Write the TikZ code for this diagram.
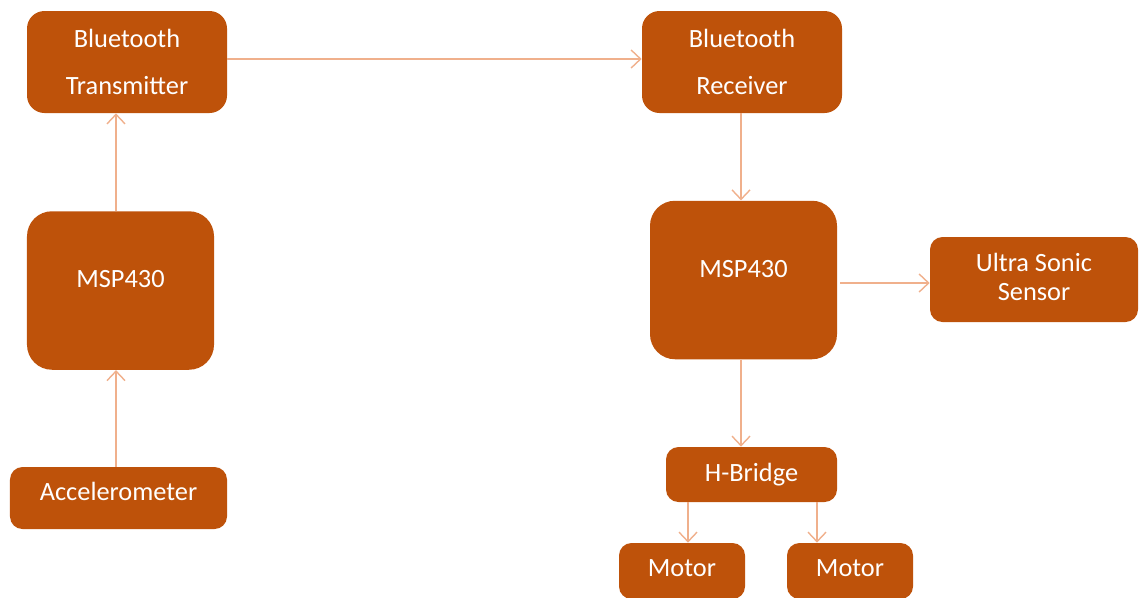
\documentclass[tikz,border=0pt]{standalone}
\usepackage{fontspec}
\setsansfont{Carlito}
\usetikzlibrary{positioning, arrows.meta}
\definecolor{boxfill}{RGB}{190,82,10}
\definecolor{linkcol}{RGB}{240,176,140}
\tikzset{
        ->,  % every connector is directed
        >={Straight Barb[length=1.9mm, width=3.6mm]},
        link/.style={draw=linkcol, line width=0.8pt},
        block/.style={rectangle, rounded corners=3.5mm, fill=boxfill, draw=none,
                      text=white, align=center, inner sep=0pt,
                      font=\sffamily\fontsize{15}{18}\selectfont},
        btbox/.style={block, minimum width=4cm, minimum height=2.04cm,
                      font=\sffamily\fontsize{15}{27}\selectfont},
        mspbox/.style={block, rounded corners=5mm, minimum width=3.74cm,
                      minimum height=3.17cm, text depth=0.45cm},
        smallbox/.style={block, rounded corners=2.5mm}
        }
\begin{document}
\begin{tikzpicture}[node distance=4cm]
        \useasboundingbox (0,0) rectangle (22.78,-11.94);
        % transmitting side
        \node[btbox] (tx) at (2.54,-1.24) {Bluetooth\\Transmitter};
        \node[mspbox, below of=tx, node distance=4.57cm, xshift=-1.3mm] (mspL) {MSP430};
        \node[smallbox, below of=mspL, node distance=4.15cm, xshift=-0.4mm,
              minimum width=4.34cm, minimum height=1.24cm, text depth=0.28cm] (acc) {Accelerometer};
        % receiving side
        \node[btbox, right of=tx, node distance=12.3cm] (rx) {Bluetooth\\Receiver};
        \node[mspbox, below of=rx, node distance=4.36cm, xshift=0.3mm] (mspR) {MSP430};
        \node[smallbox, right of=mspR, node distance=5.81cm, yshift=0.1mm,
              minimum width=4.16cm, minimum height=1.7cm, text depth=0.12cm,
              font=\sffamily\fontsize{15}{16.5}\selectfont] (us) {Ultra Sonic\\Sensor};
        \node[smallbox, below of=mspR, node distance=3.89cm, xshift=1.6mm,
              minimum width=3.42cm, minimum height=1.1cm] (hb) {H-Bridge};
        \node[smallbox, below of=hb, node distance=1.93cm, xshift=-13.9mm,
              minimum width=2.52cm, minimum height=1.12cm, text depth=0.12cm] (m1) {Motor};
        \node[smallbox, right of=m1, node distance=3.36cm,
              minimum width=2.52cm, minimum height=1.12cm, text depth=0.12cm] (m2) {Motor};
        % connector axes
        \coordinate (axL) at (2.32,0);
        \coordinate (axR) at (14.82,0);
        \coordinate (axM1) at (13.76,0);
        \coordinate (axM2) at (16.34,0);
        \coordinate (axT) at (0,-1.18);
        \coordinate (axU) at (0,-5.66);
        \draw[link] (acc.north -| axL) -- (mspL.south -| axL);
        \draw[link] (mspL.north -| axL) -- (tx.south -| axL);
        \draw[link] (tx.east |- axT) -- (rx.west |- axT);
        \draw[link] (rx.south -| axR) -- (mspR.north -| axR);
        \draw[link] ([xshift=0.6mm]mspR.east |- axU) -- (us.west |- axU);
        \draw[link] (mspR.south -| axR) -- (hb.north -| axR);
        \draw[link] (hb.south -| axM1) -- (m1.north -| axM1);
        \draw[link] (hb.south -| axM2) -- (m2.north -| axM2);
\end{tikzpicture}
\end{document}
